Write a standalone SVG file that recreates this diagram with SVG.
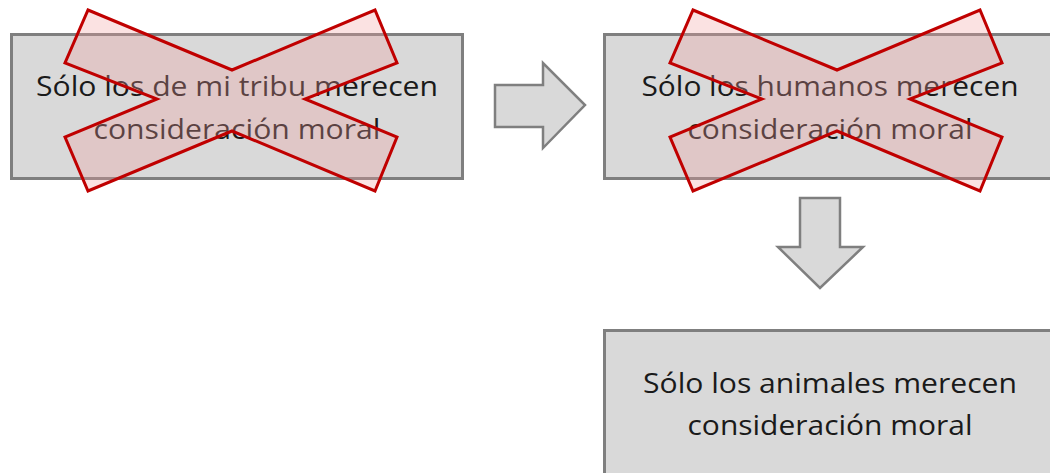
<svg xmlns="http://www.w3.org/2000/svg" width="1050" height="473" viewBox="0 0 1050 473">
<style>
.box{fill:#d9d9d9;stroke:#7f7f7f;stroke-width:3}
.arrow{fill:#d9d9d9;stroke:#7f7f7f;stroke-width:2.5;stroke-linejoin:miter}
.txt{font-family:"Open Sans","Liberation Sans",sans-serif;font-size:27px;fill:#1a1a1a;text-anchor:middle}
.cross{fill:#f2a0a0;fill-opacity:0.3;stroke:#c00000;stroke-width:3;stroke-linejoin:miter}
</style>
<defs>
<polygon id="x" points="88,10 232,70 375,10 397,63 305,99 397,137 375,191 232,131 88,191 65,137 157,99 65,63"/>
</defs>
<rect width="1050" height="473" fill="#ffffff"/>
<g id="node1">
<rect class="box" x="11.5" y="34.5" width="451" height="144"/>
<text class="txt" x="237" y="96" textLength="402" lengthAdjust="spacingAndGlyphs">Sólo los de mi tribu merecen</text>
<text class="txt" x="237" y="139" textLength="287" lengthAdjust="spacingAndGlyphs">consideración moral</text>
<use href="#x" class="cross"/>
</g>
<g id="node2">
<rect class="box" x="604.5" y="34.5" width="460" height="144"/>
<text class="txt" x="830" y="96" textLength="377" lengthAdjust="spacingAndGlyphs">Sólo los humanos merecen</text>
<text class="txt" x="830" y="139" textLength="285" lengthAdjust="spacingAndGlyphs">consideración moral</text>
<use href="#x" class="cross" transform="translate(605,0)"/>
</g>
<g id="node3">
<rect class="box" x="604.5" y="330.5" width="460" height="160"/>
<text class="txt" x="830" y="393" textLength="374" lengthAdjust="spacingAndGlyphs">Sólo los animales merecen</text>
<text class="txt" x="830" y="435" textLength="285" lengthAdjust="spacingAndGlyphs">consideración moral</text>
</g>
<g id="connectors">
<polygon class="arrow" points="495,85 543,85 543,63 585,105 543,148 543,127 495,127"/>
<polygon class="arrow" points="800,198 840,198 840,247 863,247 820,288 778,247 800,247"/>
</g>
</svg>
